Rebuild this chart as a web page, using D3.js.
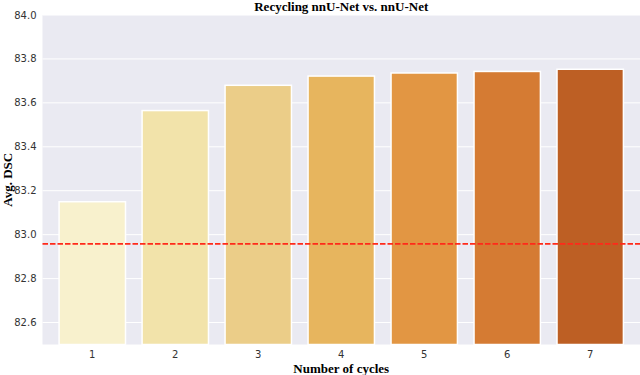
<html>
<head>
<script src="https://d3js.org/d3.v7.min.js"></script>
<style>
body { margin: 0; background: #fff; }
</style>
</head>
<body>
<script>
// data
var cycles = ["1", "2", "3", "4", "5", "6", "7"];
var dsc = [83.15, 83.565, 83.68, 83.722, 83.736, 83.743, 83.753];
var barColors = ["#f8f1cd", "#f2e3aa", "#ebcd88", "#e7b55e", "#e29643", "#d57b33", "#bd5f24"];
var baseline = 82.958;
var yTicks = [82.6, 82.8, 83.0, 83.2, 83.4, 83.6, 83.8, 84.0];

var W = 640, H = 375;
var margin = {left: 42.5, right: 0, top: 15, bottom: 30.5};

var svg = d3.select("body").append("svg")
    .attr("width", W)
    .attr("height", H);

var x = d3.scaleBand().domain(cycles)
    .range([margin.left, W - margin.right])
    .padding(0.2);
var y = d3.scaleLinear().domain([82.5, 84.0])
    .range([H - margin.bottom, margin.top]);

// background
svg.append("rect")
    .attr("x", margin.left)
    .attr("y", margin.top)
    .attr("width", W - margin.right - margin.left)
    .attr("height", H - margin.bottom - margin.top)
    .style("fill", "#eaeaf2");

// grid
svg.selectAll("line.grid").data(yTicks).enter()
    .append("line")
    .attr("class", "grid")
    .attr("x1", margin.left)
    .attr("x2", W - margin.right)
    .attr("y1", d => y(d))
    .attr("y2", d => y(d))
    .style("stroke", "#fff")
    .style("stroke-width", 1);

// bars
svg.selectAll("rect.bar").data(dsc).enter()
    .append("rect")
    .attr("class", "bar")
    .attr("x", (d, i) => x(cycles[i]))
    .attr("y", d => y(d))
    .attr("width", x.bandwidth())
    .attr("height", d => y(82.5) - y(d))
    .style("fill", (d, i) => barColors[i])
    .style("stroke", "#fff")
    .style("stroke-width", 1.5);

// nnU-Net reference line
svg.append("line")
    .attr("x1", margin.left)
    .attr("x2", W - margin.right)
    .attr("y1", y(baseline))
    .attr("y2", y(baseline))
    .style("stroke", "#ff2a1a")
    .style("stroke-width", 1.8)
    .style("stroke-dasharray", "5.5,2");

// y tick labels
svg.selectAll("text.ytick").data(yTicks).enter()
    .append("text")
    .attr("class", "ytick")
    .attr("x", margin.left - 6)
    .attr("y", d => y(d))
    .attr("dy", "0.35em")
    .attr("text-anchor", "end")
    .style("font-family", "DejaVu Sans")
    .style("font-size", "10px")
    .style("fill", "#333")
    .text(d => d.toFixed(1));

// x tick labels
svg.selectAll("text.xtick").data(cycles).enter()
    .append("text")
    .attr("class", "xtick")
    .attr("x", d => x(d) + x.bandwidth() / 2)
    .attr("y", H - margin.bottom + 13)
    .attr("text-anchor", "middle")
    .style("font-family", "DejaVu Sans")
    .style("font-size", "10px")
    .style("fill", "#333")
    .text(d => d);

// title and axis labels
svg.append("text")
    .attr("x", (margin.left + W - margin.right) / 2)
    .attr("y", 11)
    .attr("text-anchor", "middle")
    .style("font-family", "Liberation Serif")
    .style("font-weight", "bold")
    .style("font-size", "13px")
    .text("Recycling nnU-Net vs. nnU-Net");

svg.append("text")
    .attr("x", (margin.left + W - margin.right) / 2)
    .attr("y", 373)
    .attr("text-anchor", "middle")
    .style("font-family", "Liberation Serif")
    .style("font-weight", "bold")
    .style("font-size", "13px")
    .text("Number of cycles");

svg.append("text")
    .attr("transform", "translate(12," + ((margin.top + H - margin.bottom) / 2) + ") rotate(-90)")
    .attr("text-anchor", "middle")
    .style("font-family", "Liberation Serif")
    .style("font-weight", "bold")
    .style("font-size", "13px")
    .text("Avg. DSC");
</script>
</body>
</html>
